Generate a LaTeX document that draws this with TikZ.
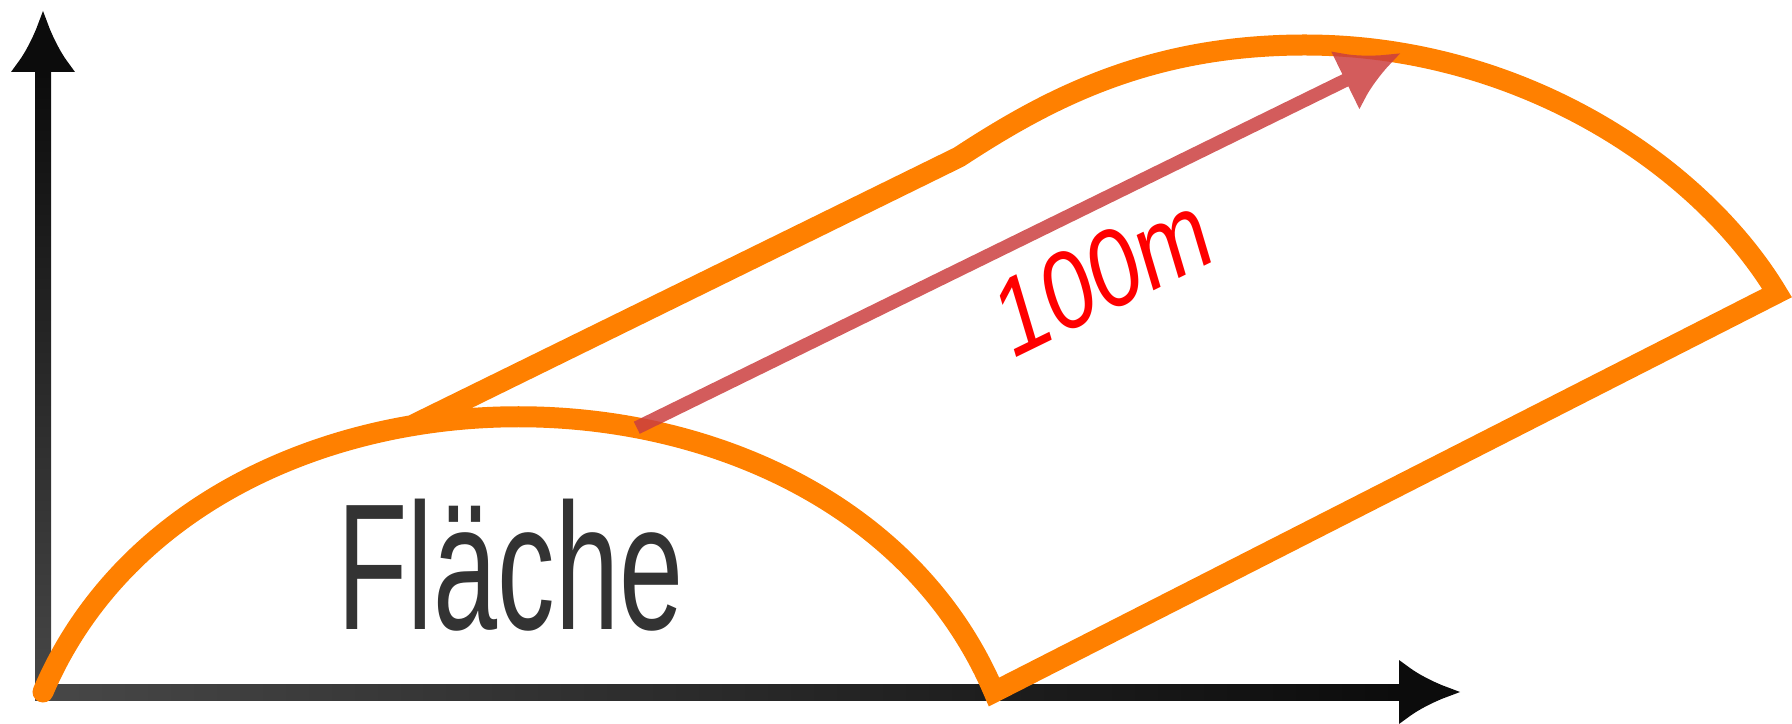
\documentclass[tikz,border=0pt]{standalone}
\usepackage{fontspec}
\setmainfont{Liberation Sans}
\usepackage{xcolor}
\definecolor{florange}{RGB}{255, 128, 0}
\definecolor{flred}{RGB}{203, 63, 63}
\definecolor{fltext}{RGB}{51, 51, 51}
\definecolor{flaxis}{RGB}{12, 12, 12}
\usetikzlibrary{arrows.meta, calc}

\begin{document}
\begin{tikzpicture}[x=0.5pt, y=0.5pt, >={Latex[length=31pt, width=33pt]},
    axisline/.style={->, line width=8pt, flaxis, line cap=rect},
    archline/.style={florange, line width=10.5pt, line cap=round, line join=miter},
    lengtharrow/.style={->, line width=6.75pt, flred}]

\useasboundingbox (0,0) rectangle (1792,723);

% =====================================================
% EJES
% =====================================================
\coordinate (origin) at (43, 31);
\coordinate (ytip) at (43, 713);
\coordinate (xtip) at (1461, 31);

\draw[axisline] (origin) -- (ytip);
\draw[axisline] (origin) -- (xtip);

% Degradado de los ejes (gris en el origen, negro en las puntas)
\shade[left color=black!72, right color=flaxis]
    ($(origin)+(-8,-8)$) rectangle ($(xtip)+(-62,8)$);
\shade[bottom color=black!72, top color=flaxis]
    ($(origin)+(-8,-8)$) rectangle ($(ytip)+(8,-62)$);

% =====================================================
% MEDIO CILINDRO
% =====================================================
\coordinate (c1) at (199, 398);
\coordinate (c2) at (838, 398);
\coordinate (B) at (994, 31);
\coordinate (C) at (1777, 430);
\coordinate (P) at (1305, 678);
\coordinate (K) at (959, 566);

% Puntos sobre el arco frontal
\path (origin) .. controls (c1) and (c2) ..
    coordinate[pos=0.41] (T) coordinate[pos=0.6] (tail) (B);

% Arco frontal, lado inferior, arco trasero y lado superior
\draw[archline] (origin) .. controls (c1) and (c2) .. (B) -- (C)
    .. controls (1700, 558) and (1520, 678) .. (P)
    .. controls (1150, 678) and (1049, 625) .. (K) -- (T);

% --- Longitud 100m ---
\coordinate (tip) at (1401, 670);
\begin{scope}[transparency group, opacity=0.85]
    \draw[lengtharrow] (tail) -- (tip);
\end{scope}

% Etiquetas
\node[text=fltext, font=\fontsize{90}{90}\selectfont, anchor=base west, inner sep=0pt]
    (flaeche) at (337, 94) {\scalebox{0.64}[1]{Fläche}};
\node[text=red, font=\itshape\fontsize{54}{54}\selectfont, rotate=26, anchor=base, inner sep=0pt]
    (laenge) at (1118, 415) {\scalebox{0.85}[1]{100m}};

\end{tikzpicture}
\end{document}
